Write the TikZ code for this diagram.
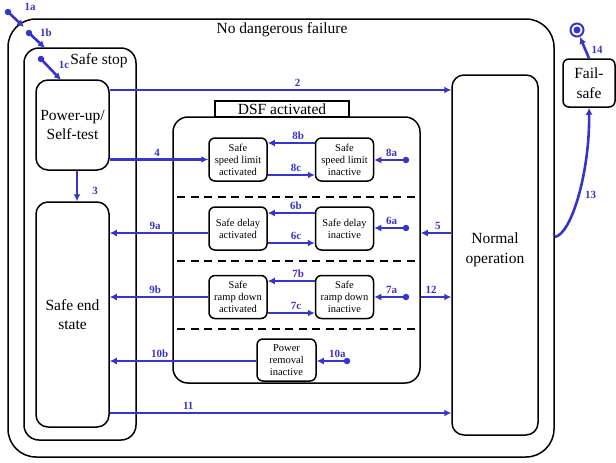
\documentclass[tikz,border=0pt]{standalone}
\usepackage{fontspec}
\setmainfont{Liberation Serif}
\usetikzlibrary{arrows.meta,calc}
\definecolor{flow}{RGB}{53,53,204}
\begin{document}
\begin{tikzpicture}[x=1pt,y=-1pt,
  box/.style={draw,line width=1.5pt,rounded corners=#1,inner sep=0pt,align=center},
  box/.default=6pt,
  big/.style={font=\fontsize{15.5}{19.5}\selectfont},
  small/.style={font=\fontsize{10.5}{12}\selectfont},
  state/.style={box=6pt,small,minimum width=58pt,minimum height=43pt},
  arr/.style={draw=flow,line width=2.6pt,-{Latex[length=7pt,width=7pt]}},
  lab/.style={text=flow,font=\bfseries\fontsize{11}{12}\selectfont,inner sep=2pt},
  dot/.style={circle,fill=flow,inner sep=0pt,minimum size=6.5pt},
  sepline/.style={line width=2.5pt,dash pattern=on 8pt off 5.5pt}]
\useasboundingbox (0,0) rectangle (616,463);

% containers
\node[box=28pt,minimum width=546pt,minimum height=438pt] (ndf) at (281,238) {};
\node[big] (ndft) at (282,30) {No dangerous failure};
\node[box=15pt,minimum width=112pt,minimum height=392pt] (ss) at (80,244) {};
\node[big] (sst) at (99,61) {Safe stop};
\node[box=15pt,minimum width=247pt,minimum height=266pt] (dsf) at (296.5,250) {};
\node[draw,line width=1.5pt,big,inner sep=0pt,minimum width=134pt,minimum height=16pt] (dsft) at (282,109) {DSF activated};

% main states
\node[box=12pt,big,minimum width=73pt,minimum height=90pt] (pu) at (72.5,125) {Power-up/\\Self-test};
\node[box=12pt,big,minimum width=73pt,minimum height=225pt] (se) at (72.5,314.5) {Safe end\\state};
\node[box=12pt,minimum width=86pt,minimum height=360pt,
      label={[big,align=center,yshift=5pt]center:Normal\\operation}] (no) at (495,255) {};
\node[box=6pt,big,minimum width=52pt,minimum height=48pt] (fs) at (589,83) {Fail-\\safe};
\node[circle,draw=flow,line width=2pt,minimum size=13pt,inner sep=0pt] (fin) at (577,30) {};
\fill[flow] (fin.center) circle (3.5pt);

% DSF sub-states
\node[state] (sla) at (238,159.5) {Safe\\speed limit\\activated};
\node[state] (sli) at (344.5,159.5) {Safe\\speed limit\\inactive};
\node[state] (sda) at (238,228.5) {Safe delay\\activated};
\node[state] (sdi) at (344.5,228.5) {Safe delay\\inactive};
\node[state] (rda) at (238,297) {Safe\\ramp down\\activated};
\node[state] (rdi) at (344.5,297) {Safe\\ramp down\\inactive};
\node[state,minimum width=59pt,minimum height=42pt] (pri) at (286.5,360) {Power\\removal\\inactive};

% separators
\draw[sepline] ($(dsf.west |- 0,197)+(5,0)$) -- (dsf.east |- 0,197);
\draw[sepline] ($(dsf.west |- 0,261)+(5,0)$) -- (dsf.east |- 0,261);
\draw[sepline] ($(dsf.west |- 0,329)+(5,0)$) -- (dsf.east |- 0,329);

% entry points
\node[dot] (d1a) at (8,12) {};
\node[dot] (d1b) at (29,33) {};
\node[dot] (d1c) at (41,59) {};
\coordinate (e1a) at (24,27);
\coordinate (e1b) at (45,48);
\coordinate (e1c) at (61,80);
\node[dot] (d8a) at (406,160) {};
\node[dot] (d6a) at (406,228) {};
\node[dot] (d7a) at (406,297) {};
\node[dot] (d10a) at (347,361) {};

\draw[arr] (d1a.center) -- (e1a);
\node[lab] at (30,7) {1a};
\draw[arr] (d1b.center) -- (e1b);
\node[lab] at (46,33) {1b};
\draw[arr] (d1c.center) -- (e1c);
\node[lab] at (64,65) {1c};

% transitions
\draw[arr] (pu.east |- 0,90) -- node[lab,above,pos=.55]{2} (no.west |- 0,90);
\draw[arr] (pu.south -| 0,0) ++(77,0) coordinate (s3) -- node[lab,right,pos=.65,xshift=12pt]{3} (se.north -| s3);
\draw[arr] (pu.east |- sla.west) -- node[lab,above,pos=.48]{4} (sla.west);

\draw[arr] (sli.west |- 0,143) -- node[lab,above,pos=.35]{8b} (sla.east |- 0,143);
\draw[arr] (sla.east |- 0,175) -- node[lab,above,pos=.6]{8c} (sli.west |- 0,175);
\draw[arr] (d8a.center) -- node[lab,above,pos=.45]{8a} (sli.east |- d8a);

\draw[arr] (sdi.west |- 0,213) -- node[lab,above,pos=.4]{6b} (sda.east |- 0,213);
\draw[arr] (sda.east |- 0,243) -- node[lab,above,pos=.6]{6c} (sdi.west |- 0,243);
\draw[arr] (d6a.center) -- node[lab,above,pos=.45]{6a} (sdi.east |- d6a);

\draw[arr] (rdi.west |- 0,281) -- node[lab,above,pos=.35]{7b} (rda.east |- 0,281);
\draw[arr] (rda.east |- 0,313) -- node[lab,above,pos=.6]{7c} (rdi.west |- 0,313);
\draw[arr] (d7a.center) -- node[lab,above,pos=.45]{7a} (rdi.east |- d7a);

\draw[arr] (sda.west |- 0,233) -- node[lab,above,pos=.54]{9a} (se.east |- 0,233);
\draw[arr] (no.west |- 0,233) -- node[lab,above,pos=.44]{5} (dsf.east |- 0,233);
\draw[arr] (rda.west) -- node[lab,above,pos=.54]{9b} (se.east |- rda.west);
\draw[arr] (dsf.east |- rdi.east) -- node[lab,above,pos=.34]{12} (no.west |- rdi.east);

\draw[arr] (pri.west |- 0,361) -- node[lab,above,pos=.66]{10b} (se.east |- 0,361);
\draw[arr] (d10a.center) -- node[lab,above,pos=.32]{10a} (pri.east |- d10a);
\draw[arr] (se.east |- 0,413) -- node[lab,above,pos=.23]{11} (no.west |- 0,413);

\draw[arr] (ndf.east |- 0,237) .. controls (572,234) and (590,170) .. node[lab,pos=.5,right,xshift=3pt]{13} (fs.south);
\draw[arr] (fs.north) -- node[lab,right,pos=.4,xshift=3pt]{14} (fin);
\end{tikzpicture}
\end{document}
